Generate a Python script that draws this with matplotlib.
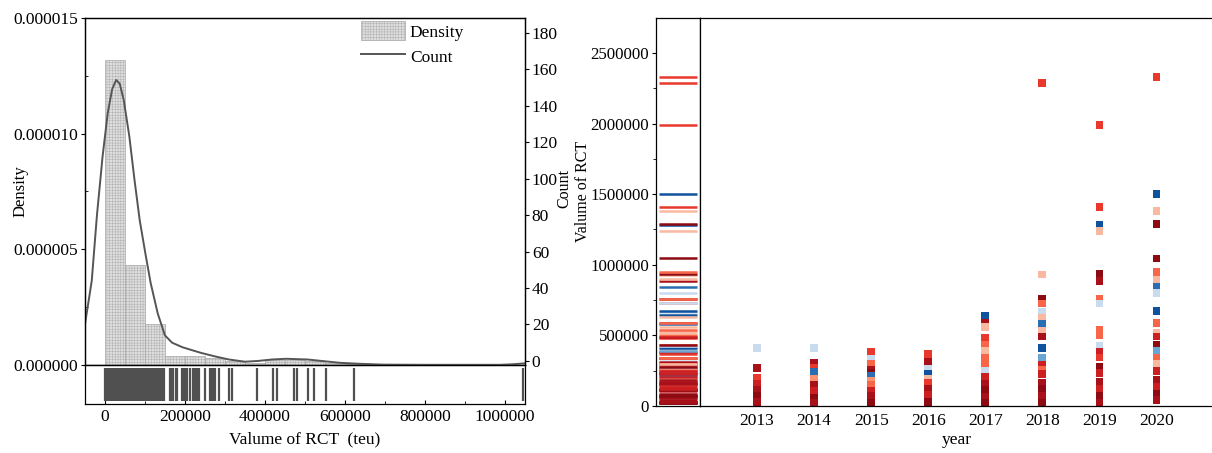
import matplotlib.pyplot as plt
from matplotlib.ticker import MultipleLocator, FormatStrFormatter

plt.rcParams['font.family'] = ['Liberation Serif', 'DejaVu Serif']
plt.rcParams['font.size'] = 12.5
plt.rcParams['hatch.linewidth'] = 0.3
plt.rcParams['axes.linewidth'] = 0.9

# ---- left panel: histogram (density) + smoothed count curve + rug ----
BIN_LEFT = [0, 50000, 100000, 150000, 200000, 250000, 300000, 350000,
            400000, 450000, 500000, 550000, 600000]
DENSITY = [13.17e-6, 4.32e-6, 1.76e-6, 0.39e-6, 0.39e-6, 0.30e-6, 0.17e-6,
           0.10e-6, 0.22e-6, 0.22e-6, 0.17e-6, 0.10e-6, 0.06e-6]

CURVE_X = [-50000, -33000, -20000, -6000, 7000, 18000, 28000, 37000, 47000,
           61000, 74000, 87000, 101000, 114000, 132000, 150000, 168000,
           194000, 239000, 275000, 310000, 350000, 382000, 417000, 453000,
           507000, 542000, 587000, 632000, 694000, 800000, 988000, 1020000,
           1050000]
CURVE_COUNT = [20, 44, 80, 112, 136, 149, 154, 152, 143, 123, 99, 77, 59,
               43, 26, 14, 10, 7.5, 4.5, 2.5, 0.8, -0.4, 0, 0.8, 1.2, 0.8,
               0, -1.0, -1.5, -2.0, -2.1, -2.1, -1.8, -1.3]

RUG_VALUES = [0, 4000, 8000, 12500, 16000, 20500, 25000, 29000, 33500, 38000,
              42000, 46500, 51000, 55000, 59500, 64000, 68000, 72500, 77000,
              81000, 85500, 90000, 94000, 98500, 103000, 107000, 111500,
              116000, 120000, 124500, 129000, 133000, 137500, 141600, 144000,
              148300, 162500, 164000, 169000, 177000, 179000, 192000, 194000,
              200000, 206000, 212000, 219000, 225000, 231000, 236000, 250000,
              262000, 266000, 269000, 275000, 286000, 311000, 317000, 379000,
              419000, 429000, 473000, 481000, 508000, 523000, 552000, 623000,
              1044000]

# ---- right panel: RCT volume by year, coloured by group code ----
YEARS = [2013, 2014, 2015, 2016, 2017, 2018, 2019, 2020]
rct_2013 = [(409000, 'b'), (269000, 'D'), (201000, 'r'), (158000, 'R'),
            (111000, 'D'), (69000, 'K'), (28000, 'D')]
rct_2014 = [(409000, 'b'), (302000, 'D'), (272000, 'r'), (239000, 'B'),
            (194000, 's'), (150000, 'D'), (105000, 'R'), (60000, 'K'),
            (20000, 'D')]
rct_2015 = [(385000, 'r'), (336000, 'b'), (298000, 'o'), (255000, 'D'),
            (235000, 'K'), (215000, 'B'), (175000, 's'), (150000, 'o'),
            (110000, 'R'), (70000, 'D'), (25000, 'K')]
rct_2016 = [(366000, 'r'), (310000, 'D'), (265000, 'b'), (229000, 'N'),
            (195000, 'l'), (160000, 'r'), (120000, 'D'), (75000, 'R'),
            (30000, 'K')]
rct_2017 = [(641000, 'N'), (591000, 'D'), (560000, 'l'), (485000, 'r'),
            (430000, 'o'), (390000, 'l'), (343000, 'o'), (300000, 'o'),
            (251000, 'b'), (206000, 'R'), (159000, 'D'), (111000, 'K'),
            (64000, 'D'), (21000, 'K')]
rct_2018 = [(2290000, 'r'), (931000, 'l'), (761000, 'K'), (726000, 'o'),
            (667000, 'b'), (627000, 'l'), (579000, 'B'), (530000, 'l'),
            (492000, 'D'), (409000, 'N'), (343000, 'm'), (288000, 'R'),
            (253000, 'o'), (225000, 'R'), (165000, 'D'), (118000, 'K'),
            (71000, 'D'), (24000, 'K')]
rct_2019 = [(1992000, 'r'), (1409000, 'r'), (1281000, 'N'), (1239000, 'l'),
            (932000, 'K'), (884000, 'D'), (761000, 'o'), (726000, 'b'),
            (537000, 'o'), (501000, 'o'), (428000, 'b'), (383000, 'R'),
            (343000, 'r'), (279000, 'K'), (232000, 'R'), (170000, 'D'),
            (120000, 'R'), (70000, 'K'), (25000, 'D')]
rct_2020 = [(2330000, 'r'), (1503000, 'N'), (1378000, 'l'), (1286000, 'K'),
            (1045000, 'K'), (946000, 'o'), (896000, 'l'), (842000, 'B'),
            (801000, 'b'), (674000, 'N'), (589000, 'o'), (519000, 'l'),
            (492000, 'R'), (430000, 'K'), (390000, 'm'), (340000, 'o'),
            (296000, 'l'), (248000, 'R'), (182000, 'D'), (135000, 'R'),
            (88000, 'K'), (40000, 'D')]
RCT_BY_YEAR = [rct_2013, rct_2014, rct_2015, rct_2016,
               rct_2017, rct_2018, rct_2019, rct_2020]

PALETTE = {
    'K': '#8e0a13', 'D': '#a8111a', 'R': '#cc1f22', 'r': '#e8392c',
    'o': '#f8664a', 's': '#fb9272', 'l': '#f9b9a0',
    'b': '#c9dbef', 'm': '#6aa6d4', 'B': '#2a6db3', 'N': '#0f529e',
}

fig = plt.figure(figsize=(12.12, 4.53), dpi=100)

# left panel
ax = fig.add_axes([0.0701, 0.1943, 0.3630, 0.7660])
rug = fig.add_axes([0.0701, 0.1082, 0.3630, 0.0861])

bars = ax.bar(BIN_LEFT, DENSITY, width=50000, align='edge',
              facecolor='#dedede', edgecolor='#a8a8a8', hatch='++++++',
              linewidth=0.5, label='Density')
ax.set_xlim(-50000, 1050000)
ax.set_ylim(0, 0.000015)
ax.yaxis.set_major_locator(MultipleLocator(0.000005))
ax.yaxis.set_minor_locator(MultipleLocator(0.0000025))
ax.yaxis.set_major_formatter(FormatStrFormatter('%.6f'))
ax.xaxis.set_major_locator(MultipleLocator(200000))
ax.xaxis.set_minor_locator(MultipleLocator(100000))
ax.tick_params(axis='x', which='both', labelbottom=False, direction='out')
ax.tick_params(axis='x', which='major', length=3)
ax.tick_params(axis='x', which='minor', length=2)
ax.tick_params(axis='y', which='major', length=3, direction='out', pad=2)
ax.tick_params(axis='y', which='minor', length=2, direction='in')
ax.set_ylabel('Density', fontsize=12)
ax.yaxis.set_label_coords(-0.128, 0.5)

ax2 = ax.twinx()
line, = ax2.plot(CURVE_X, CURVE_COUNT, color='#555555', linewidth=1.4,
                 label='Count')
ax2.set_ylim(-2.2, 188)
ax2.yaxis.set_major_locator(MultipleLocator(20))
ax2.tick_params(axis='y', length=3, direction='out', pad=2)
ax2.set_ylabel('Count', fontsize=11.5)
ax2.yaxis.set_label_coords(1.072, 0.51)

ax2.legend([bars, line], ['Density', 'Count'], loc='upper right',
           bbox_to_anchor=(0.882, 1.015), frameon=False, handlelength=2.5,
           handleheight=1.3, handletextpad=0.3, labelspacing=0.35,
           borderaxespad=0.1)

rug.vlines(RUG_VALUES, 0.08, 0.92, color='#505050', linewidth=1.6)
rug.set_xlim(-50000, 1050000)
rug.set_ylim(0, 1)
rug.set_yticks([])
rug.xaxis.set_major_locator(MultipleLocator(200000))
rug.xaxis.set_minor_locator(MultipleLocator(100000))
rug.ticklabel_format(axis='x', style='plain', useOffset=False)
rug.tick_params(axis='x', which='major', direction='in', length=3)
rug.tick_params(axis='x', which='minor', direction='in', length=2)
rug.set_xlabel('Valume of RCT  (teu)', labelpad=5)

# right panel
strip = fig.add_axes([0.5413, 0.1038, 0.0363, 0.8565])
main = fig.add_axes([0.5776, 0.1038, 0.4237, 0.8565], sharey=strip)

all_vals, all_cols, all_years = [], [], []
for year, points in zip(YEARS, RCT_BY_YEAR):
    for v, code in points:
        all_years.append(year)
        all_vals.append(v)
        all_cols.append(PALETTE[code])

strip.hlines(all_vals, 0.07, 0.93, colors=all_cols, linewidth=1.8)
strip.set_xlim(0, 1)
strip.set_xticks([])
strip.set_ylim(0, 2748000)
strip.yaxis.set_major_locator(MultipleLocator(500000))
strip.yaxis.set_minor_locator(MultipleLocator(250000))
strip.ticklabel_format(axis='y', style='plain', useOffset=False)
strip.tick_params(axis='y', which='major', direction='out', length=3,
                  pad=2, labelsize=12.2)
strip.tick_params(axis='y', which='minor', direction='out', length=2)
strip.set_ylabel('Valume of RCT', fontsize=11.5)
strip.yaxis.set_label_coords(-1.48, 0.553)

main.scatter(all_years, all_vals, c=all_cols, marker='s', s=32,
             linewidths=0)
main.set_xlim(2012, 2021)
main.set_xticks(YEARS)
main.tick_params(axis='x', length=0, pad=5)
main.tick_params(axis='y', which='both', left=False, labelleft=False)
main.set_xlabel('year', labelpad=2)

fig.savefig('out.png', dpi=100)
